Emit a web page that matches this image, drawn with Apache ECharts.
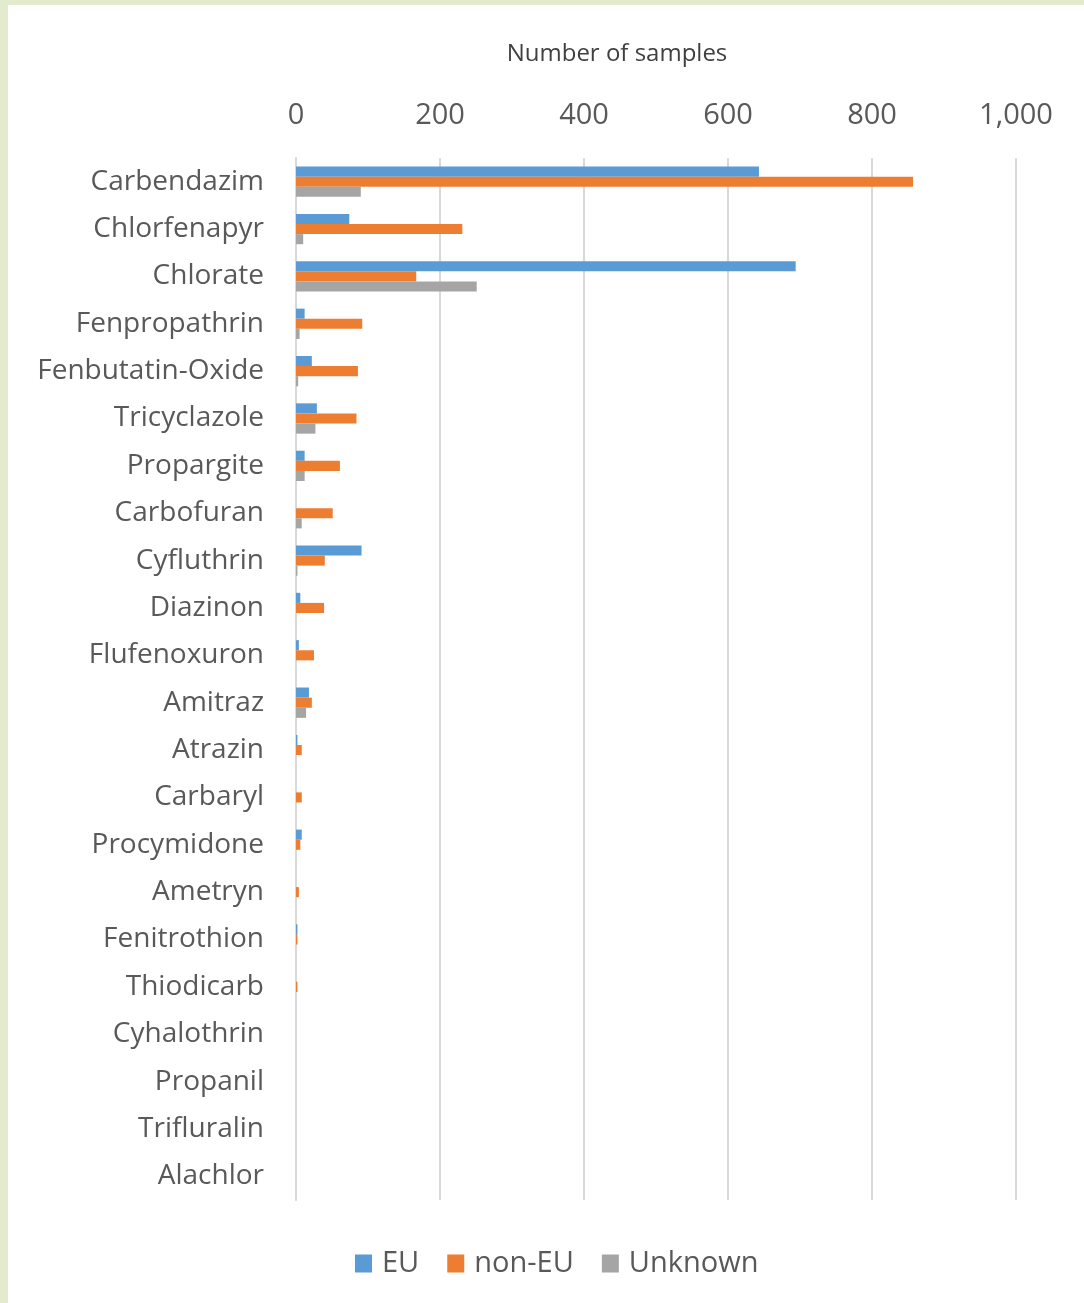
<!DOCTYPE html>
<html>
<head>
<meta charset="utf-8">
<title>Number of samples</title>
<script src="https://cdn.jsdelivr.net/npm/echarts@6/dist/echarts.min.js"></script>
<style>
  html, body { margin: 0; padding: 0; width: 1084px; height: 1303px; background: #e2ebcd; overflow: hidden; }
  #chart { position: absolute; left: 8px; top: 5px; width: 1076px; height: 1298px; background: #fff; }
</style>
</head>
<body>
<div id="chart"></div>
<script>
// categories, top to bottom
const substances = [
  'Carbendazim', 'Chlorfenapyr', 'Chlorate', 'Fenpropathrin', 'Fenbutatin-Oxide',
  'Tricyclazole', 'Propargite', 'Carbofuran', 'Cyfluthrin', 'Diazinon',
  'Flufenoxuron', 'Amitraz', 'Atrazin', 'Carbaryl', 'Procymidone',
  'Ametryn', 'Fenitrothion', 'Thiodicarb', 'Cyhalothrin', 'Propanil',
  'Trifluralin', 'Alachlor'
]
const euValues = [643, 74, 694, 12, 22, 29, 12, 0, 91, 6, 4, 18, 2, 0, 8, 0, 2, 0, 0, 0, 0, 0]
const nonEuValues = [857, 231, 167, 92, 86, 84, 61, 51, 40, 39, 25, 22, 8, 8, 6, 4, 2, 2, 0, 0, 0, 0]
const unknownValues = [90, 10, 251, 5, 3, 27, 12, 8, 2, 0, 0, 14, 0, 0, 0, 0, 0, 0, 0, 0, 0, 0]
const seriesNames = ['EU', 'non-EU', 'Unknown']

const textColor = '#595959'
const fontFamily = '"Open Sans", "Noto Sans", sans-serif'

const chart = echarts.init(document.getElementById('chart'))

function barSeries(name, data, color) {
  return {
    name: name,
    type: 'bar',
    data: data,
    barGap: '0%',
    barCategoryGap: '36%',
    itemStyle: { color: color },
    animation: false
  }
}

chart.setOption({
  title: {
    text: 'Number of samples',
    left: 604,
    top: 32,
    textAlign: 'center',
    textStyle: { color: '#404040', fontSize: 24, fontWeight: 'normal', fontFamily: fontFamily }
  },
  legend: {
    data: seriesNames,
    bottom: 20,
    left: 342,
    itemWidth: 17,
    itemHeight: 18,
    itemGap: 28,
    icon: 'rect',
    textStyle: { color: textColor, fontSize: 29, fontFamily: fontFamily, padding: [0, 0, 0, 5] }
  },
  grid: {
    left: 288,
    right: 68,
    top: 153,
    bottom: 103
  },
  xAxis: {
    type: 'value',
    position: 'top',
    min: 0,
    max: 1000,
    interval: 200,
    axisLine: { show: false },
    axisTick: { show: false },
    axisLabel: {
      color: textColor,
      fontSize: 29,
      fontFamily: fontFamily,
      margin: 28,
      formatter: function (v) { return v.toLocaleString('en-US') }
    },
    splitLine: { lineStyle: { color: '#d9d9d9', width: 2 } }
  },
  yAxis: {
    type: 'category',
    inverse: true,
    data: substances,
    axisLine: { lineStyle: { color: '#d9d9d9', width: 2 } },
    axisTick: { show: false },
    axisLabel: {
      color: textColor,
      fontSize: 28,
      fontFamily: fontFamily,
      margin: 32
    }
  },
  series: [
    barSeries('EU', euValues, '#5b9bd5'),
    barSeries('non-EU', nonEuValues, '#ed7d31'),
    barSeries('Unknown', unknownValues, '#a5a5a5')
  ]
})
</script>
</body>
</html>
